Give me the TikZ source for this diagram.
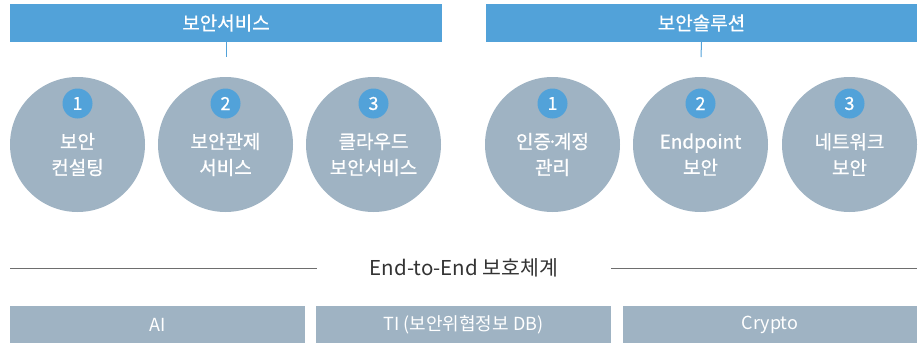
\documentclass[tikz,border=0pt]{standalone}
\usepackage{fontspec}
\setmainfont{Noto Sans CJK KR}
\newfontfamily\medfont{Noto Sans CJK KR}[FakeBold=0.7]
\definecolor{barblue}{HTML}{52A2D9}
\definecolor{graybl}{HTML}{9FB3C3}
\definecolor{txtgray}{HTML}{333333}
\definecolor{linegray}{HTML}{6E6E6E}
\begin{document}
\begin{tikzpicture}[x=1pt,y=-1pt,
  bar/.style={fill=barblue,draw=none,inner sep=0pt,text=white,font=\medfont\fontsize{19}{21}\selectfont},
  circ/.style={circle,fill=graybl,draw=none,minimum size=135pt,inner sep=0pt},
  badge/.style={circle,fill=barblue,draw=none,minimum size=30pt,inner sep=0pt,text=white,font=\medfont\fontsize{18}{20}\selectfont},
  ctext/.style={text=white,align=center,font=\medfont\fontsize{19}{26}\selectfont,inner sep=0pt},
  basebox/.style={fill=graybl,draw=none,inner sep=0pt,text=white,font=\fontsize{18}{20}\selectfont},
  link/.style={draw=barblue,line width=1pt},
  rule/.style={draw=linegray,line width=0.8pt}]
\useasboundingbox (0,0) rectangle (922,343);
% top bars
\node[bar,minimum width=432pt,minimum height=38pt] (svc) at (226,23) {보안서비스};
\node[bar,minimum width=431pt,minimum height=38pt] (sol) at (701.5,23) {보안솔루션};
\coordinate (svcend) at (226,57);
\coordinate (solend) at (701,57);
\draw[link] (svc.south) -- (svcend);
\draw[link] (sol.south) -- (solend);
% circles
\foreach \n/\x/\num/\t in {c1/77.5/1/{보안\\컨설팅}, c2/225.5/2/{보안관제\\서비스}, c3/373.5/3/{클라우드\\보안서비스},
  c4/552.5/1/{인증\kern-0.2em·\kern-0.2em계정\\관리}, c5/700.5/2/{Endpoint\\보안}, c6/849.5/3/{네트워크\\보안}}{
  \node[circ] (\n) at (\x,144.5) {};
  \node[badge] (\n b) at (\x,103.5) {\num};
  \node[ctext] (\n t) at (\x,154.5) {\t};
}
% divider
\node[text=txtgray,font=\fontsize{20.5}{22}\selectfont,inner sep=0pt] (e2e) at (464,268) {End-to-End 보호체계};
\coordinate (l1) at (10,268);
\coordinate (l2) at (317,268);
\coordinate (r1) at (611,268);
\coordinate (r2) at (917,268);
\draw[rule] (l1) -- (l2);
\draw[rule] (r1) -- (r2);
% base boxes
\node[basebox,minimum width=295pt,minimum height=37pt] (ai) at (157.5,324.5) {AI};
\node[basebox,minimum width=295pt,minimum height=37pt] (ti) at (463.5,324.5) {TI (보안위협정보 DB)};
\node[basebox,minimum width=294pt,minimum height=37pt] (cr) at (770,324.5) {Crypto};
\end{tikzpicture}
\end{document}
